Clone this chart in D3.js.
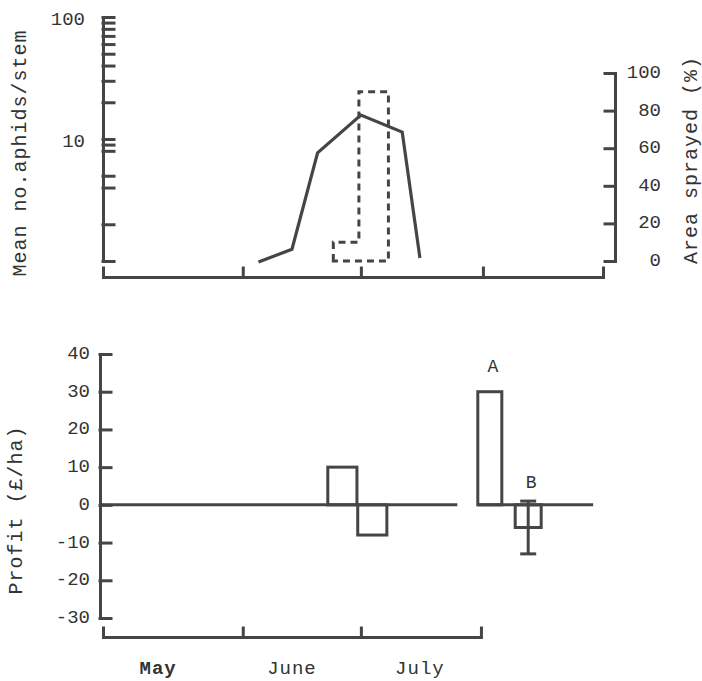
<!DOCTYPE html>
<html>
<head>
<meta charset="utf-8">
<script src="https://cdn.jsdelivr.net/npm/d3@7/dist/d3.min.js"></script>
<style>
  html, body { margin: 0; padding: 0; background: #fff; }
  svg { display: block; }
  text { font-family: "Liberation Mono", "DejaVu Sans Mono", monospace; fill: #333; }
</style>
</head>
<body>
<svg id="chart" width="702" height="681"></svg>
<script>
// ---- data (days counted from 1 May) ----
const aphidDays   = [35, 43.5, 50, 61, 71.5, 76];
const aphidCounts = [0.98, 1.25, 7.7, 15.7, 11.4, 1.06];

const sprayBinStart = [54, 60.5];
const sprayBinEnd   = [60.5, 68];
const sprayPercent  = [10, 90];

const profitBarStart = [52.6, 60.2, 90.7, 100.2];
const profitBarEnd   = [60, 67.6, 96.8, 106.8];
const profitValues   = [10, -8, 30, -6];
const profitErrors   = [0, 0, 0, 7];
const profitNames    = ["", "", "A", "B"];
const zeroLineStart  = [-4.5, 90.7];
const zeroLineEnd    = [85.5, 120];

const monthNames      = ["May", "June", "July"];
const monthLabelDays  = [9.5, 43.5, 76];
const monthBoundaries = [31, 61, 92];

const aphidTicks       = [1, 2, 4, 5, 8, 9, 10, 20, 30, 40, 50, 60, 70, 80, 90, 100];
const aphidLabelValues = [10, 100];
const aphidLabels      = ["10", "100"];
const sprayTicks       = [0, 20, 40, 60, 80, 100];
const sprayLabels      = ["0", "20", "40", "60", "80", "100"];
const profitTicks      = [-30, -20, -10, 0, 10, 20, 30, 40];
const profitLabels     = ["-30", "-20", "-10", "0", "10", "20", "30", "40"];

// ---- layout ----
const ink = "#454545";
const svg = d3.select("#chart");
svg.append("rect").attr("width", 702).attr("height", 681).attr("fill", "#fff");

const x = d3.scaleLinear().domain([-4.5, 122.5]).range([103, 603]);
const xBottom = x.copy().domain([-4.5, 91.5]).range([x(-4.5), x(91.5)]);
const yAphid = d3.scaleLog().domain([1, 100]).range([261, 17]);
const ySpray = d3.scaleLinear().domain([0, 100]).range([261, 73]);
const yProfit = d3.scaleLinear().domain([-30, 40]).range([618, 354]);

function styleAxis(g) {
  g.selectAll("path, line").attr("stroke", ink).attr("stroke-width", 3).attr("stroke-linecap", "square");
  g.selectAll("text").remove();
}

// ---- top panel: aphid counts and area sprayed ----
svg.append("g").attr("transform", "translate(103,0)")
  .call(d3.axisRight(yAphid).tickValues(aphidTicks).tickSize(11).tickSizeOuter(0).tickFormat(""))
  .call(styleAxis);

svg.append("g").attr("transform", "translate(0,277)")
  .call(d3.axisTop(x).tickValues(monthBoundaries).tickSize(9).tickSizeOuter(9).tickFormat(""))
  .call(styleAxis);

svg.append("g").attr("transform", "translate(615,0)")
  .call(d3.axisLeft(ySpray).tickValues(sprayTicks).tickSize(10).tickSizeOuter(0).tickFormat(""))
  .call(styleAxis);

svg.append("g").selectAll("text").data(aphidLabelValues).join("text")
  .attr("x", 85).attr("y", d => yAphid(d) + 3)
  .attr("text-anchor", "end").attr("dominant-baseline", "middle")
  .attr("font-size", 19)
  .text((d, i) => aphidLabels[i]);

svg.append("g").selectAll("text").data(sprayTicks).join("text")
  .attr("x", 661).attr("y", d => ySpray(d))
  .attr("text-anchor", "end").attr("dominant-baseline", "middle")
  .attr("font-size", 19)
  .text((d, i) => sprayLabels[i]);

// sprayed area outline (stepped, dashed)
const sprayPts = [[sprayBinStart[0], 0]];
sprayPercent.forEach((v, i) => { sprayPts.push([sprayBinStart[i], v], [sprayBinEnd[i], v]); });
sprayPts.push([sprayBinEnd[sprayBinEnd.length - 1], 0]);
svg.append("path")
  .attr("d", d3.line().x(d => x(d[0])).y(d => ySpray(d[1]))(sprayPts) + "Z")
  .attr("fill", "none").attr("stroke", ink).attr("stroke-width", 3)
  .attr("stroke-dasharray", "7,5");

// aphid line
svg.append("path")
  .attr("d", d3.line().x((d, i) => x(aphidDays[i])).y(d => yAphid(d))(aphidCounts))
  .attr("fill", "none").attr("stroke", ink).attr("stroke-width", 3.2)
  .attr("stroke-linejoin", "miter");

// ---- bottom panel: profit ----
svg.append("g").attr("transform", "translate(100,0)")
  .call(d3.axisRight(yProfit).tickValues(profitTicks).tickSize(11).tickSizeOuter(0).tickFormat(""))
  .call(styleAxis);

svg.append("g").attr("transform", "translate(0,637)")
  .call(d3.axisTop(xBottom).tickValues(monthBoundaries.slice(0, 2)).tickSize(9).tickSizeOuter(9).tickFormat(""))
  .call(styleAxis);

svg.append("g").selectAll("text").data(profitTicks).join("text")
  .attr("x", 90).attr("y", d => yProfit(d))
  .attr("text-anchor", "end").attr("dominant-baseline", "middle")
  .attr("font-size", 19)
  .text((d, i) => profitLabels[i]);

// zero lines
svg.append("g").selectAll("line").data(zeroLineStart).join("line")
  .attr("x1", (d, i) => i === 0 ? 100 : x(d)).attr("x2", (d, i) => x(zeroLineEnd[i]))
  .attr("y1", yProfit(0)).attr("y2", yProfit(0))
  .attr("stroke", ink).attr("stroke-width", 3);

// bars
svg.append("g").selectAll("rect").data(profitValues).join("rect")
  .attr("x", (d, i) => x(profitBarStart[i]))
  .attr("width", (d, i) => x(profitBarEnd[i]) - x(profitBarStart[i]))
  .attr("y", d => yProfit(Math.max(0, d)))
  .attr("height", d => Math.abs(yProfit(d) - yProfit(0)))
  .attr("fill", "none").attr("stroke", ink).attr("stroke-width", 3);

// error bars
const errG = svg.append("g").attr("stroke", ink).attr("stroke-width", 3);
profitValues.forEach((v, i) => {
  const e = profitErrors[i];
  if (!e) return;
  const cx = x((profitBarStart[i] + profitBarEnd[i]) / 2);
  errG.append("line").attr("x1", cx).attr("x2", cx).attr("y1", yProfit(v + e)).attr("y2", yProfit(v - e));
  [v + e, v - e].forEach(t => errG.append("line")
    .attr("x1", cx - 8).attr("x2", cx + 8).attr("y1", yProfit(t)).attr("y2", yProfit(t)));
});

// bar names
svg.append("g").selectAll("text").data(profitValues).join("text")
  .attr("x", (d, i) => x((profitBarStart[i] + profitBarEnd[i]) / 2) + 3)
  .attr("y", (d, i) => yProfit(Math.max(d, d + profitErrors[i])) - (profitErrors[i] ? 13 : 20))
  .attr("text-anchor", "middle").attr("font-size", 18)
  .text((d, i) => profitNames[i]);

// month labels
svg.append("g").selectAll("text").data(monthNames).join("text")
  .attr("x", (d, i) => x(monthLabelDays[i])).attr("y", 674)
  .attr("text-anchor", "middle").attr("font-size", 19)
  .attr("letter-spacing", 1)
  .attr("font-weight", (d, i) => i === 0 ? 700 : 400)
  .text(d => d);

// axis titles
function vTitle(txt, cx, cy) {
  svg.append("text")
    .attr("transform", `translate(${cx},${cy}) rotate(-90)`)
    .attr("text-anchor", "middle").attr("dominant-baseline", "middle")
    .attr("font-size", 20).attr("letter-spacing", 1)
    .text(txt);
}
vTitle("Mean no.aphids/stem", 21, 153);
vTitle("Area sprayed (%)", 692, 160);
vTitle("Profit (£/ha)", 17, 510);
</script>
</body>
</html>
